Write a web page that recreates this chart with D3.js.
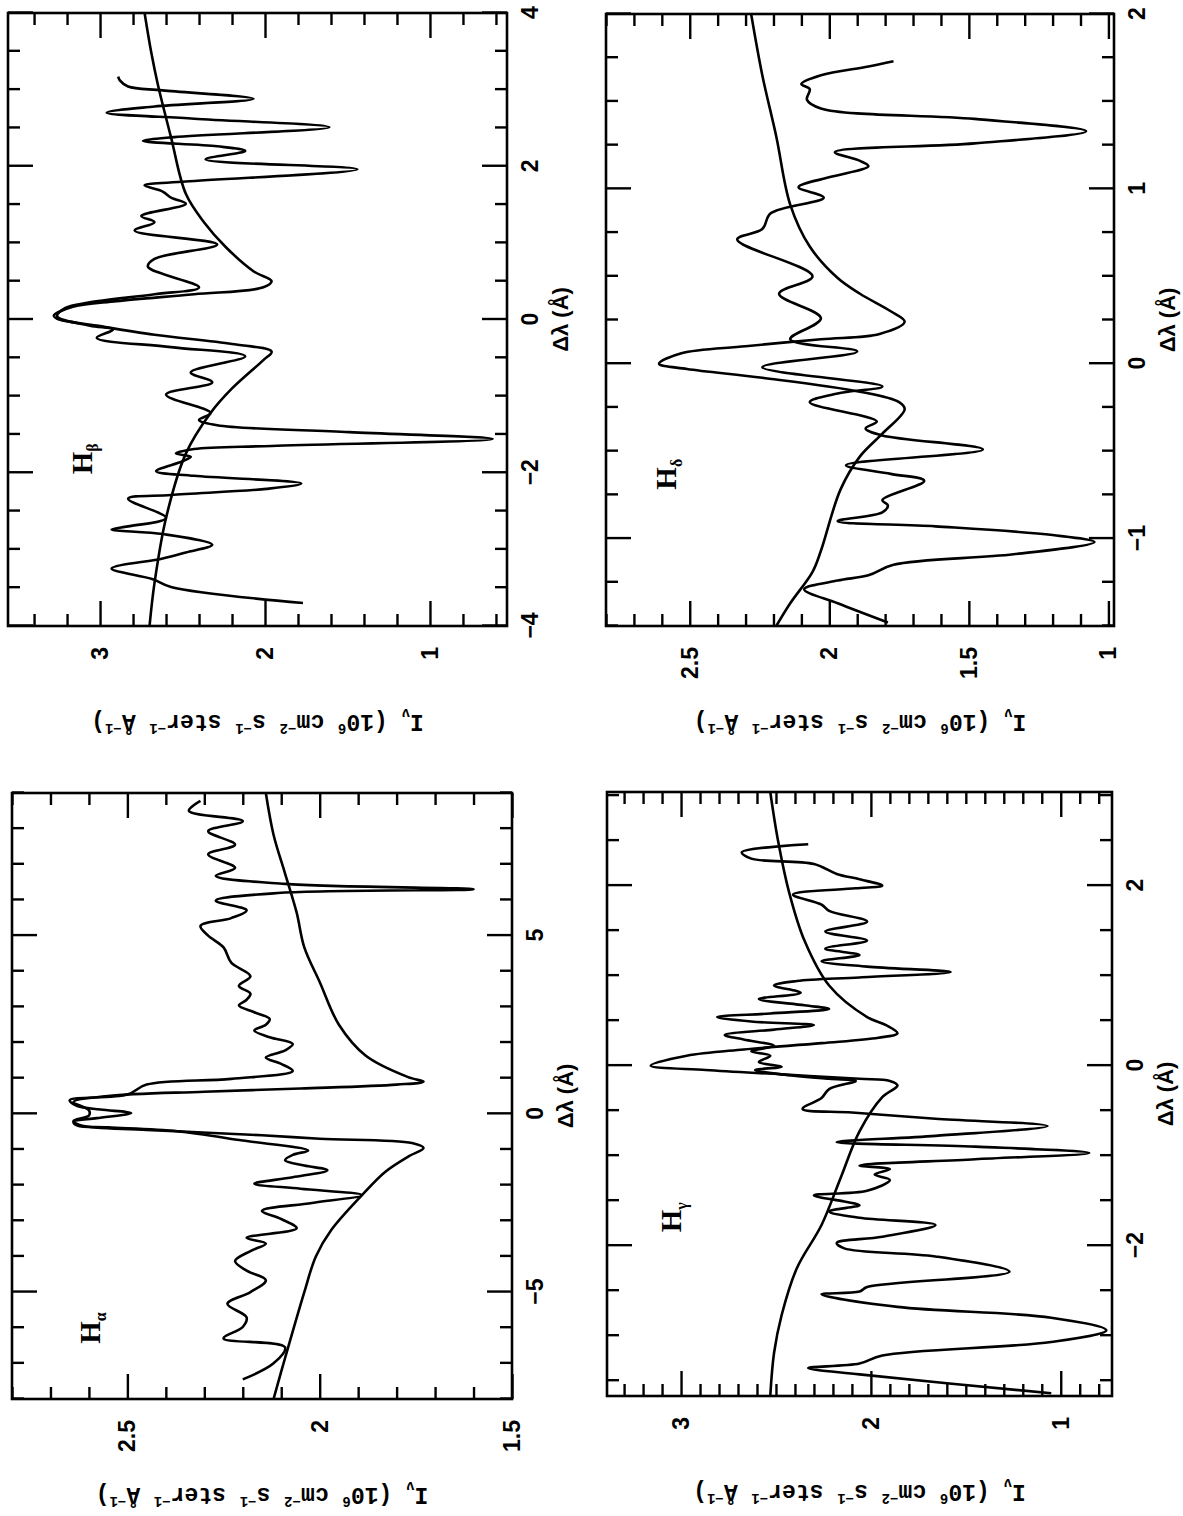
<!DOCTYPE html>
<html><head><meta charset="utf-8">
<script src="https://cdn.jsdelivr.net/npm/d3@7"></script>
<style>body{margin:0;background:#fff}svg{display:block}</style>
</head><body>
<svg id="c" width="1183" height="1516"></svg>
<script>
// ---------------- DATA (Δλ in Å, I in 10^6 cm^-2 s^-1 ster^-1 Å^-1) ----------------
const haObs = [[-7.45,2.20],[-7.0,2.12],[-6.55,2.09],[-6.3,2.25],[-5.98,2.20],[-5.71,2.19],[-5.33,2.24],[-5.0,2.18],[-4.67,2.14],[-4.4,2.19],[-4.13,2.22],[-3.85,2.18],[-3.64,2.14],[-3.48,2.19],[-3.21,2.06],[-2.95,2.10],[-2.72,2.15],[-2.5,2.02],[-2.28,1.89],[-2.1,2.05],[-1.96,2.17],[-1.78,2.07],[-1.58,1.98],[-1.45,2.04],[-1.30,2.09],[-1.15,2.07],[-1.03,2.03],[-0.75,2.20],[-0.49,2.37],[-0.38,2.55],[-0.33,2.63],[-0.22,2.64],[-0.12,2.58],[0.02,2.49],[0.12,2.57],[0.22,2.63],[0.38,2.65],[0.54,2.50],[0.82,2.45],[0.98,2.23],[1.20,2.07],[1.4,2.10],[1.58,2.14],[1.78,2.09],[1.96,2.07],[2.15,2.13],[2.34,2.17],[2.5,2.14],[2.66,2.13],[2.85,2.17],[3.04,2.21],[3.2,2.19],[3.37,2.18],[3.59,2.21],[3.86,2.18],[4.24,2.23],[4.67,2.25],[5.0,2.29],[5.27,2.31],[5.49,2.23],[5.71,2.19],[5.98,2.27],[6.2,2.10],[6.30,1.60],[6.45,2.09],[6.68,2.27],[6.90,2.22],[7.28,2.29],[7.55,2.22],[7.93,2.29],[8.21,2.20],[8.50,2.34],[8.78,2.31]];
const haMod = [[-8,2.12],[-6.85,2.09],[-5.0,2.04],[-4.0,2.01],[-3.26,1.97],[-2.28,1.89],[-1.63,1.83],[-1.20,1.77],[-0.96,1.73],[-0.82,1.76],[-0.70,2.0],[-0.60,2.15],[-0.45,2.45],[-0.33,2.62],[-0.2,2.64],[-0.05,2.60],[0.1,2.60],[0.33,2.64],[0.5,2.55],[0.62,2.30],[0.71,2.05],[0.82,1.80],[0.9,1.73],[1.03,1.77],[1.63,1.88],[2.5,1.95],[3.7,2.00],[4.67,2.04],[5.65,2.06],[6.74,2.09],[7.83,2.12],[9.0,2.14]];

const hbObs = [[-3.70,1.77],[-3.49,2.57],[-3.39,2.68],[-3.25,2.93],[-3.12,2.62],[-3.04,2.48],[-2.94,2.32],[-2.80,2.62],[-2.74,2.93],[-2.70,2.83],[-2.59,2.60],[-2.34,2.83],[-2.29,2.57],[-2.21,1.99],[-2.14,1.78],[-2.04,2.43],[-1.98,2.66],[-1.85,2.50],[-1.79,2.45],[-1.75,2.54],[-1.69,2.43],[-1.65,1.96],[-1.56,0.62],[-1.47,1.49],[-1.38,2.29],[-1.31,2.40],[-1.22,2.33],[-0.98,2.60],[-0.82,2.32],[-0.69,2.45],[-0.48,2.12],[-0.36,2.57],[-0.24,3.02],[-0.13,2.92],[-0.08,3.06],[0.04,3.26],[0.15,3.21],[0.22,3.07],[0.33,2.67],[0.42,2.40],[0.69,2.71],[0.79,2.67],[0.98,2.29],[1.16,2.79],[1.27,2.67],[1.35,2.75],[1.51,2.48],[1.59,2.57],[1.67,2.62],[1.75,2.73],[1.80,2.48],[1.96,1.44],[2.09,2.36],[2.20,2.12],[2.26,2.29],[2.33,2.74],[2.38,2.55],[2.51,1.61],[2.62,2.43],[2.70,2.96],[2.78,2.67],[2.88,2.07],[2.99,2.62],[3.04,2.83],[3.12,2.88],[3.17,2.89]];
const hbMod = [[-4,2.70],[-3.44,2.67],[-2.59,2.60],[-1.75,2.48],[-1.22,2.33],[-0.90,2.20],[-0.53,2.01],[-0.42,1.96],[-0.32,2.20],[-0.20,2.67],[-0.08,3.02],[0.01,3.26],[0.05,3.28],[0.17,3.16],[0.24,2.90],[0.33,2.43],[0.42,2.01],[0.50,1.96],[0.63,2.07],[0.95,2.24],[1.27,2.37],[1.64,2.48],[2.38,2.57],[3.07,2.65],[3.49,2.69],[4,2.73]];

const hgObs = [[-3.64,1.05],[-3.43,2.06],[-3.36,2.33],[-3.31,2.06],[-3.22,1.94],[-3.07,1.05],[-2.94,0.76],[-2.80,1.05],[-2.68,1.86],[-2.54,2.26],[-2.51,2.06],[-2.46,2.02],[-2.29,1.27],[-2.12,1.66],[-2.03,2.14],[-1.97,2.18],[-1.90,1.94],[-1.77,1.66],[-1.69,2.06],[-1.62,2.22],[-1.55,2.06],[-1.51,2.14],[-1.44,2.30],[-1.39,2.02],[-1.27,1.90],[-1.21,1.98],[-1.15,1.90],[-1.11,2.06],[-1.04,1.45],[-0.97,0.85],[-0.90,1.45],[-0.85,2.18],[-0.78,1.66],[-0.67,1.07],[-0.59,1.66],[-0.52,2.10],[-0.48,2.36],[-0.36,2.26],[-0.26,2.22],[-0.17,2.08],[-0.146,2.22],[-0.097,2.47],[-0.049,2.61],[-0.011,2.47],[0.04,2.59],[0.11,2.53],[0.16,2.63],[0.22,2.51],[0.29,2.67],[0.34,2.77],[0.40,2.51],[0.45,2.30],[0.49,2.63],[0.54,2.81],[0.58,2.53],[0.63,2.22],[0.67,2.35],[0.74,2.59],[0.81,2.37],[0.89,2.51],[0.94,2.39],[0.98,2.06],[1.04,1.58],[1.10,2.02],[1.16,2.26],[1.23,2.06],[1.30,2.24],[1.39,2.02],[1.49,2.24],[1.60,2.02],[1.72,2.22],[1.79,2.26],[1.90,2.41],[1.97,2.08],[2.00,1.94],[2.07,2.06],[2.13,2.18],[2.24,2.30],[2.30,2.63],[2.37,2.68],[2.46,2.33]];
const hgMod = [[-3.67,2.53],[-3.19,2.51],[-2.77,2.47],[-2.25,2.39],[-1.77,2.26],[-1.25,2.16],[-0.73,2.06],[-0.35,1.94],[-0.22,1.86],[-0.17,1.90],[-0.146,2.06],[-0.097,2.47],[-0.049,2.87],[0.0,3.16],[0.11,2.97],[0.18,2.67],[0.25,2.26],[0.31,1.96],[0.36,1.86],[0.45,1.92],[0.54,2.02],[0.89,2.22],[1.39,2.35],[1.92,2.43],[2.51,2.49],[3.04,2.53]];

const hdObs = [[-1.48,1.79],[-1.37,1.97],[-1.29,2.09],[-1.24,1.97],[-1.21,1.86],[-1.15,1.77],[-1.09,1.34],[-1.02,1.05],[-0.98,1.20],[-0.93,1.62],[-0.90,1.97],[-0.85,1.81],[-0.81,1.79],[-0.78,1.81],[-0.67,1.66],[-0.63,1.78],[-0.58,1.94],[-0.49,1.45],[-0.41,1.81],[-0.37,1.87],[-0.33,1.83],[-0.22,2.07],[-0.17,1.97],[-0.13,1.81],[-0.02,2.24],[0.07,1.90],[0.14,2.14],[0.26,2.03],[0.40,2.18],[0.50,2.06],[0.71,2.33],[0.77,2.24],[0.86,2.21],[0.95,2.02],[1.01,2.11],[1.07,1.99],[1.13,1.86],[1.16,1.89],[1.21,1.98],[1.26,1.48],[1.33,1.08],[1.40,1.48],[1.46,2.03],[1.51,2.08],[1.57,2.07],[1.60,2.10],[1.65,2.03],[1.70,1.86],[1.73,1.77]];
const hdMod = [[-1.5,2.19],[-1.37,2.14],[-1.19,2.06],[-1.07,2.03],[-0.72,1.96],[-0.53,1.89],[-0.40,1.81],[-0.26,1.73],[-0.22,1.75],[-0.16,1.89],[-0.08,2.24],[-0.03,2.51],[0.0,2.61],[0.06,2.53],[0.10,2.30],[0.14,2.03],[0.17,1.82],[0.24,1.73],[0.30,1.78],[0.40,1.89],[0.49,1.97],[0.67,2.07],[0.91,2.14],[1.30,2.19],[1.65,2.24],[2.0,2.28]];

const haLamTicks = [-5,0,5], haITicks = [1.5,2,2.5];
const hbLamTicks = [-4,-2,0,2,4], hbITicks = [1,2,3];
const hgLamTicks = [-2,0,2], hgITicks = [1,2,3];
const hdLamTicks = [-1,0,1,2], hdITicks = [1,1.5,2,2.5];

// ---------------- LAYOUT ----------------
const panels = [
  {greek:'α', obs:haObs, mod:haMod, lam:[-8,9], inten:[1.5,2.8], lamStep:5, lamSub:5, iStep:0.5, iSub:5, lamLab:haLamTicks, iLab:haITicks, box:{X0:12,X1:512,Y0:793,Y1:1399}, label:[-6.45,2.57]},
  {greek:'β', obs:hbObs, mod:hbMod, lam:[-4,4], inten:[0.533,3.558], lamStep:2, lamSub:4, iStep:1, iSub:5, lamLab:hbLamTicks, iLab:hbITicks, box:{X0:8,X1:507,Y0:13,Y1:626}, label:[-2.02,3.05]},
  {greek:'γ', obs:hgObs, mod:hgMod, lam:[-3.67,3.04], inten:[0.73,3.39], lamStep:2, lamSub:4, iStep:1, iSub:10, lamLab:hgLamTicks, iLab:hgITicks, box:{X0:607,X1:1112,Y0:792,Y1:1396}, label:[-1.85,3.0]},
  {greek:'δ', obs:hdObs, mod:hdMod, lam:[-1.5,2], inten:[0.98,2.8], lamStep:1, lamSub:4, iStep:0.5, iSub:5, lamLab:hdLamTicks, iLab:hdITicks, box:{X0:606,X1:1114,Y0:14,Y1:626}, label:[-0.72,2.55]}
];

const ROT = 1516;
const SANS = "'Liberation Sans', Arial, sans-serif";
const MONO = "'Liberation Mono', 'Courier New', monospace";
const SERIF = "'Liberation Serif', 'Times New Roman', serif";
const MAJ = 25, MIN = 12;

const svg = d3.select('#c');
const root = svg.append('g').attr('transform', `translate(0,${ROT}) rotate(-90)`);

function tickVals(dom, step){
  const a = Math.min(...dom), b = Math.max(...dom);
  const s = Math.ceil(a/step - 1e-6), e = Math.floor(b/step + 1e-6);
  return d3.range(s, e+1).map(k => +(k*step).toFixed(6));
}
const fmt = d => (d < 0 ? '\u2212' + Math.abs(d) : String(d));

function style(sel){
  sel.select('.domain').remove();
  sel.selectAll('line').attr('stroke','#000').attr('stroke-width',2.4);
  sel.attr('font-family', SANS).attr('font-size', 23).attr('font-weight','bold');
  sel.selectAll('text').attr('fill','#000');
}

panels.forEach((p, i) => {
  const xl = ROT - p.box.Y1, xr = ROT - p.box.Y0, yt = p.box.X0, yb = p.box.X1;
  const x = d3.scaleLinear().domain(p.lam).range([xl, xr]);
  const y = d3.scaleLinear().domain(p.inten).range([yb, yt]);
  const g = root.append('g');

  const lamMaj = tickVals(p.lam, p.lamStep);
  const lamMin = tickVals(p.lam, p.lamStep/p.lamSub).filter(v => !lamMaj.some(m => Math.abs(m-v) < 1e-6));
  const iMaj = tickVals(p.inten, p.iStep);
  const iMin = tickVals(p.inten, p.iStep/p.iSub).filter(v => !iMaj.some(m => Math.abs(m-v) < 1e-6));
  const lamFmt = d => p.lamLab.some(v => Math.abs(v-d) < 1e-6) ? fmt(d) : '';
  const iFmt = d => p.iLab.some(v => Math.abs(v-d) < 1e-6) ? fmt(d) : '';

  g.append('g').attr('transform',`translate(0,${yb})`).call(d3.axisBottom(x).tickValues(lamMin).tickSize(-MIN).tickFormat('')).call(style);
  g.append('g').attr('transform',`translate(0,${yb})`).call(d3.axisBottom(x).tickValues(lamMaj).tickSize(-MAJ).tickPadding(15).tickFormat(lamFmt)).call(style);
  g.append('g').attr('transform',`translate(0,${yt})`).call(d3.axisTop(x).tickValues(lamMin).tickSize(-MIN).tickFormat('')).call(style);
  g.append('g').attr('transform',`translate(0,${yt})`).call(d3.axisTop(x).tickValues(lamMaj).tickSize(-MAJ).tickFormat('')).call(style);
  g.append('g').attr('transform',`translate(${xl},0)`).call(d3.axisLeft(y).tickValues(iMin).tickSize(-MIN).tickFormat('')).call(style);
  g.append('g').attr('transform',`translate(${xl},0)`).call(d3.axisLeft(y).tickValues(iMaj).tickSize(-MAJ).tickPadding(21).tickFormat(iFmt)).call(style);
  g.append('g').attr('transform',`translate(${xr},0)`).call(d3.axisRight(y).tickValues(iMin).tickSize(-MIN).tickFormat('')).call(style);
  g.append('g').attr('transform',`translate(${xr},0)`).call(d3.axisRight(y).tickValues(iMaj).tickSize(-MAJ).tickFormat('')).call(style);

  g.append('rect').attr('x',xl).attr('y',yt).attr('width',xr-xl).attr('height',yb-yt)
    .attr('fill','none').attr('stroke','#000').attr('stroke-width',2.6);

  const cid = 'clip'+i;
  g.append('clipPath').attr('id',cid).append('rect').attr('x',xl).attr('y',yt).attr('width',xr-xl).attr('height',yb-yt);
  const line = d3.line().x(d => x(d[0])).y(d => y(d[1])).curve(d3.curveCatmullRom.alpha(0.5));
  [p.mod, p.obs].forEach(s => {
    g.append('path').attr('d', line(s)).attr('clip-path',`url(#${cid})`)
      .attr('fill','none').attr('stroke','#000').attr('stroke-width',2.6).attr('stroke-linejoin','round');
  });

  const t = g.append('text').attr('x', x(p.label[0])).attr('y', y(p.label[1]))
    .attr('font-family', SERIF).attr('font-size', 29).attr('font-weight','bold').attr('fill','#000');
  t.append('tspan').text('H');
  t.append('tspan').attr('font-size',16).attr('dy',6).text(p.greek);

  g.append('text').attr('x',(xl+xr)/2).attr('y', yb + 61).attr('text-anchor','middle')
    .attr('font-family', SANS).attr('font-size', 22).attr('font-weight','bold').attr('fill','#000').text('Δλ (Å)');

  const tx = xl - 89, ty = (yt+yb)/2;
  const it = g.append('text').attr('transform',`translate(${tx},${ty}) rotate(-90)`).attr('text-anchor','middle')
    .attr('font-family', MONO).attr('font-size', 23).attr('font-weight','bold').attr('fill','#000');
  const parts = [['I',0],['ν',1],[' (10',0],['6',-1],[' cm',0],['−2',-1],[' s',0],['−1',-1],[' ster',0],['−1',-1],[' Å',0],['−1',-1],[')',0]];
  let prev = 0;
  parts.forEach(([s, lvl]) => {
    const dy = (lvl - prev) === 0 ? 0 : (lvl === 0 ? (prev === 1 ? -6 : 9) : (lvl === 1 ? 6 : -9));
    it.append('tspan').attr('dy', dy).attr('font-size', lvl === 0 ? 23 : 14).text(s);
    prev = lvl;
  });
});
</script>
</body></html>
